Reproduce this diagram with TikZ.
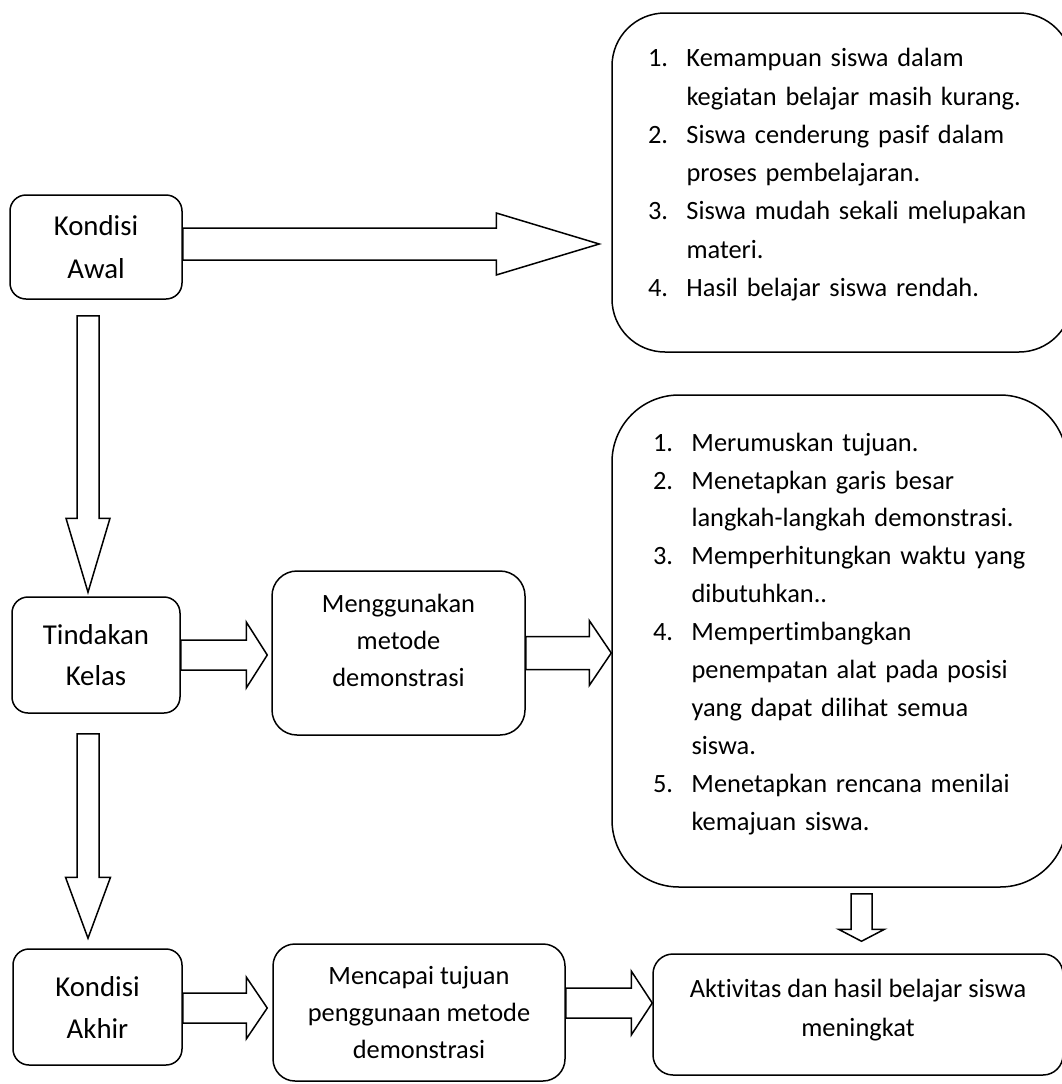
\documentclass[tikz,border=0pt]{standalone}
\usepackage{fontspec}
\setmainfont{Carlito}[Ligatures={NoCommon,NoContextual}]
\usetikzlibrary{calc}
\newcommand\fs[1]{\fontsize{26.4}{#1}\selectfont}
\newcommand\fl[1]{\fontsize{28.8}{#1}\selectfont}
\newcommand\li[1]{\makebox[38.5pt][l]{#1}}
\newcommand\lc{\hspace*{38.5pt}}
\newcommand\harrow[5]{\draw[blockarrow] let \p1=(#1), \p2=(#2) in
  (\x1,\y2+#3pt) -- (\x2-#5pt,\y2+#3pt) -- (\x2-#5pt,\y2+#4pt) -- (\x2,\y2) --
  (\x2-#5pt,\y2-#4pt) -- (\x2-#5pt,\y2-#3pt) -- (\x1,\y2-#3pt) -- cycle;}
\newcommand\varrow[5]{\draw[blockarrow] let \p1=(#1), \p2=(#2) in
  (\x2-#3pt,\y1) -- (\x2-#3pt,\y2+#5pt) -- (\x2-#4pt,\y2+#5pt) -- (\x2,\y2) --
  (\x2+#4pt,\y2+#5pt) -- (\x2+#3pt,\y2+#5pt) -- (\x2+#3pt,\y1) -- cycle;}
\begin{document}
\begin{tikzpicture}[x=1pt,y=-1pt,
  box/.style={draw, line width=1.5pt, align=center, inner sep=0pt},
  listbox/.style={draw, line width=1.5pt, align=left, inner sep=0pt},
  blockarrow/.style={draw, line width=1.5pt, line join=miter, fill=white}]
\useasboundingbox (0,0) rectangle (1062,1084);
\clip (0,0) rectangle (1062,1084);

% left column
\node[box, minimum width=172pt, minimum height=104pt, rounded corners=16pt, font=\fl{43}] (awal) at (96,247) {Kondisi\\Awal};
\node[box, minimum width=168pt, minimum height=116pt, rounded corners=16pt, font=\fl{41}] (tind) at (96,655) {Tindakan\\Kelas};
\node[box, minimum width=169pt, minimum height=116pt, rounded corners=16pt, font=\fl{42}] (akhir) at (97.5,1007) {Kondisi\\Akhir};

% middle column
\node[box, minimum width=253pt, minimum height=164pt, rounded corners=25pt, font=\fs{37}] (meng) at (398.5,653) {Menggunakan\\metode\\demonstrasi\rule[-26pt]{0pt}{26pt}};
\node[box, minimum width=292pt, minimum height=137pt, rounded corners=22pt, font=\fs{37}] (menc) at (419,1012.5) {Mencapai tujuan\\penggunaan metode\\demonstrasi};

% right column
\node[listbox, minimum width=460pt, minimum height=339pt, text width=388pt, rounded corners=53pt, font=\fs{38.3}] (b1) at (842,182.5) {\li{1.}Kemampuan siswa dalam\\
\lc kegiatan belajar masih kurang.\\
\li{2.}Siswa cenderung pasif dalam\\
\lc proses pembelajaran.\\
\li{3.}Siswa mudah sekali melupakan\\
\lc materi.\\
\li{4.}Hasil belajar siswa rendah.\rule[-20pt]{0pt}{20pt}};

\node[listbox, minimum width=455pt, minimum height=492pt, text width=373pt, rounded corners=67pt, font=\fs{37.9}] (b2) at (839.5,641) {\li{1.}Merumuskan tujuan.\\
\li{2.}Menetapkan garis besar\\
\lc langkah-langkah demonstrasi.\\
\li{3.}Memperhitungkan waktu yang\\
\lc dibutuhkan..\\
\li{4.}Mempertimbangkan\\
\lc penempatan alat pada posisi\\
\lc yang dapat dilihat semua\\
\lc siswa.\\
\li{5.}Menetapkan rencana menilai\\
\lc kemajuan siswa.\rule[-19pt]{0pt}{19pt}};

\node[box, minimum width=410pt, minimum height=121pt, rounded corners=20pt, font=\fs{39}] (akt) at (858,1014.5) {Aktivitas dan hasil belajar siswa\\meningkat\rule[-14pt]{0pt}{14pt}};

% arrow end points
\coordinate (t1) at ($(awal.east -| b1.west)+(-12,-3)$);
\coordinate (s2) at ($(awal.south)+(-8,16)$);
\coordinate (t2) at ($(tind.north)+(-8,-4)$);
\coordinate (t3) at ($(meng.west)+(-4,2)$);
\coordinate (t4) at (meng.east -| b2.west);
\coordinate (s5) at ($(tind.south)+(-8,20)$);
\coordinate (t5) at ($(akhir.north)+(-9.5,-10)$);
\coordinate (t6) at ($(akhir.east -| menc.west)+(-5,1)$);
\coordinate (t7) at ($(menc.east -| akt.west)+(0,-9.5)$);
\coordinate (s8) at ($(b2.south)+(22,6)$);
\coordinate (t8) at ($(akt.north)+(3.5,-12)$);

% block arrows
\harrow{awal.east}{t1}{16}{31}{103}
\varrow{s2}{t2}{11}{22}{74}
\harrow{tind.east}{t3}{15}{33}{21}
\harrow{meng.east}{t4}{16.5}{32.5}{22}
\varrow{s5}{t5}{11}{22.5}{61}
\harrow{akhir.east}{t6}{15}{31}{21}
\harrow{menc.east}{t7}{15}{32}{21}
\varrow{s8}{t8}{10.5}{23}{12}
\end{tikzpicture}
\end{document}
